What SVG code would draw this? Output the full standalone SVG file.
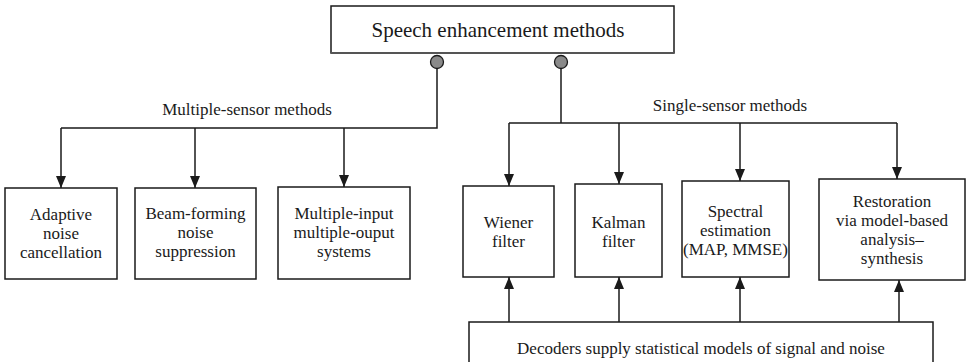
<svg xmlns="http://www.w3.org/2000/svg" width="967" height="362" viewBox="0 0 967 362">
  <style>
    .box { fill: #ffffff; stroke: #1a1a1a; stroke-width: 1.5; }
    .wire { fill: none; stroke: #1a1a1a; stroke-width: 1.5; }
    text { font-family: 'Liberation Serif', 'Times New Roman', Times, serif; font-size: 17px; fill: #1a1a1a; text-anchor: middle; }
    .title { font-size: 21px; }
    .knob { fill: #8a8a8a; stroke: #1a1a1a; stroke-width: 1.3; }
  </style>
  <defs>
    <marker id="arrow" markerUnits="userSpaceOnUse" markerWidth="12" markerHeight="12" viewBox="0 0 12 12" refX="12" refY="6" orient="auto">
      <path d="M0,1 L12,6 L0,11 Z" fill="#1a1a1a"/>
    </marker>
  </defs>

  <g id="connectors">
    <!-- multiple-sensor branch -->
    <polyline class="wire" points="437,68 437,128 61,128"/>
    <line class="wire" x1="61" y1="128" x2="61" y2="188" marker-end="url(#arrow)"/>
    <line class="wire" x1="195" y1="128" x2="195" y2="188" marker-end="url(#arrow)"/>
    <line class="wire" x1="344" y1="128" x2="344" y2="187" marker-end="url(#arrow)"/>
    <!-- single-sensor branch -->
    <line class="wire" x1="561" y1="68" x2="561" y2="123"/>
    <line class="wire" x1="509" y1="123" x2="897" y2="123"/>
    <line class="wire" x1="509" y1="123" x2="509" y2="186" marker-end="url(#arrow)"/>
    <line class="wire" x1="619" y1="123" x2="619" y2="184" marker-end="url(#arrow)"/>
    <line class="wire" x1="740" y1="123" x2="740" y2="181" marker-end="url(#arrow)"/>
    <line class="wire" x1="897" y1="123" x2="897" y2="179" marker-end="url(#arrow)"/>
    <!-- decoder feeds -->
    <line class="wire" x1="509" y1="322" x2="509" y2="277" marker-end="url(#arrow)"/>
    <line class="wire" x1="619" y1="322" x2="619" y2="277" marker-end="url(#arrow)"/>
    <line class="wire" x1="740" y1="322" x2="740" y2="277" marker-end="url(#arrow)"/>
    <line class="wire" x1="899" y1="322" x2="899" y2="280" marker-end="url(#arrow)"/>
    <!-- branch knobs -->
    <circle class="knob" cx="437" cy="62" r="6.5"/>
    <circle class="knob" cx="561" cy="62" r="6.5"/>
  </g>

  <g id="root">
    <rect class="box" x="331" y="6" width="343" height="47"/>
    <line x1="331" y1="53" x2="674" y2="53" stroke="#555555" stroke-width="2.2"/>
    <text class="title" x="498" y="37">Speech enhancement methods</text>
  </g>

  <g id="label-multi">
    <text x="247" y="115">Multiple-sensor methods</text>
  </g>
  <g id="label-single">
    <text x="730" y="111">Single-sensor methods</text>
  </g>

  <g id="adaptive">
    <rect class="box" x="5" y="188" width="112" height="91"/>
    <text x="61" y="220">Adaptive</text>
    <text x="61" y="239">noise</text>
    <text x="61" y="258">cancellation</text>
  </g>

  <g id="beamforming">
    <rect class="box" x="135" y="188" width="121" height="91"/>
    <text x="195.5" y="219">Beam-forming</text>
    <text x="195.5" y="238">noise</text>
    <text x="195.5" y="257">suppression</text>
  </g>

  <g id="mimo">
    <rect class="box" x="278" y="187" width="132" height="92"/>
    <text x="344" y="219">Multiple-input</text>
    <text x="344" y="238">multiple-ouput</text>
    <text x="344" y="257">systems</text>
  </g>

  <g id="wiener">
    <rect class="box" x="463" y="186" width="91" height="91"/>
    <text x="508.5" y="228">Wiener</text>
    <text x="508.5" y="247">filter</text>
  </g>

  <g id="kalman">
    <rect class="box" x="575" y="184" width="87" height="93"/>
    <text x="618.5" y="228">Kalman</text>
    <text x="618.5" y="247">filter</text>
  </g>

  <g id="spectral">
    <rect class="box" x="682" y="181" width="107" height="96"/>
    <text x="735.5" y="217">Spectral</text>
    <text x="735.5" y="236">estimation</text>
    <text x="735.5" y="255">(MAP, MMSE)</text>
  </g>

  <g id="restoration">
    <rect class="box" x="819" y="179" width="146" height="101"/>
    <text x="892" y="207">Restoration</text>
    <text x="892" y="226">via model-based</text>
    <text x="892" y="245">analysis–</text>
    <text x="892" y="264">synthesis</text>
  </g>

  <g id="decoders">
    <rect class="box" x="469" y="322" width="464" height="50"/>
    <text x="701" y="354">Decoders supply statistical models of signal and noise</text>
  </g>
</svg>
